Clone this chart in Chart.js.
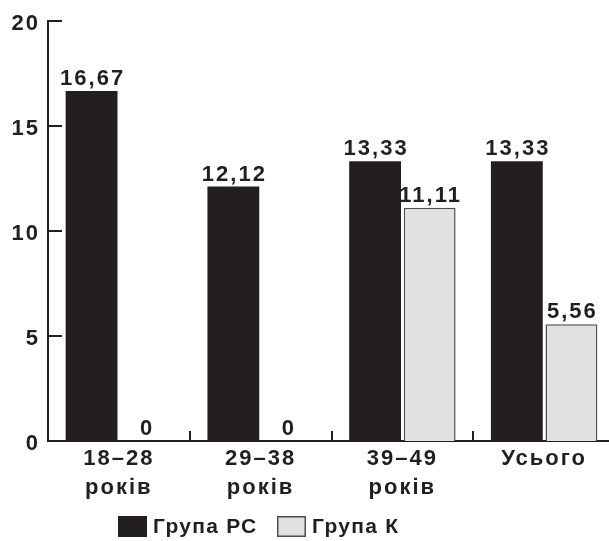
<!DOCTYPE html>
<html>
<head>
<meta charset="utf-8">
<script src="https://cdn.jsdelivr.net/npm/chart.js@4/dist/chart.umd.min.js"></script>
<style>
  html, body { margin: 0; padding: 0; background: #ffffff; }
  #wrap { width: 609px; height: 541px; position: relative; }
</style>
</head>
<body>
<div id="wrap"><canvas id="c" width="609" height="541"></canvas></div>
<script>
// Age groups on the x axis
const categories = [['18–28', 'років'], ['29–38', 'років'], ['39–49', 'років'], 'Усього'];
// Share per group, %
const groupRS = [16.67, 12.12, 13.33, 13.33];
const groupK = [0, 0, 11.11, 5.56];
// Y axis ticks
const yTicks = [0, 5, 10, 15, 20];
const seriesNames = ['Група РС', 'Група К'];

const INK = '#231f20';
const LIGHT = '#e1e2e4';
const FONT = "'Liberation Sans', Arial, Helvetica, sans-serif";

// The plot runs a little past the right edge of the canvas
const widenPlot = {
  id: 'widenPlot',
  afterLayout(chart) {
    const x = chart.scales.x;
    const right = chart.width + 6;
    x.right = right;
    x.width = right - x.left;
    x.configure();
    chart.chartArea.right = right;
    chart.chartArea.width = right - chart.chartArea.left;
  }
};

// Slightly tracked-out text for the axis labels
const tracking = {
  id: 'tracking',
  beforeDraw(chart) { chart.ctx.letterSpacing = '2px'; },
  afterDraw(chart) { chart.ctx.letterSpacing = '0px'; }
};

// Inward tick marks on both axes (y: pointing right, x: pointing up)
const innerTicks = {
  id: 'innerTicks',
  afterDatasetsDraw(chart) {
    const { ctx } = chart;
    const x = chart.scales.x, y = chart.scales.y;
    ctx.save();
    ctx.strokeStyle = INK;
    ctx.lineWidth = 2;
    ctx.beginPath();
    yTicks.forEach(v => {
      if (v === yTicks[0]) return;
      const py = Math.round(y.getPixelForValue(v));
      ctx.moveTo(x.left, py);
      ctx.lineTo(x.left + 14, py);
    });
    for (let i = 1; i < categories.length; i++) {
      const px = Math.round((x.getPixelForValue(i - 1) + x.getPixelForValue(i)) / 2);
      ctx.moveTo(px, y.bottom);
      ctx.lineTo(px, y.bottom - 10);
    }
    ctx.stroke();
    ctx.restore();
  }
};

// Value printed above every bar
const valueLabels = {
  id: 'valueLabels',
  afterDatasetsDraw(chart) {
    const { ctx } = chart;
    ctx.save();
    ctx.fillStyle = INK;
    ctx.font = 'bold 22px ' + FONT;
    ctx.letterSpacing = '2px';
    ctx.textAlign = 'center';
    ctx.textBaseline = 'alphabetic';
    chart.data.datasets.forEach((ds, di) => {
      const meta = chart.getDatasetMeta(di);
      meta.data.forEach((bar, i) => {
        const txt = String(ds.data[i]).replace('.', ',');
        ctx.fillText(txt, bar.x + 1, bar.y - 6);
      });
    });
    ctx.restore();
  }
};

// Legend row under the axis labels
const bottomLegend = {
  id: 'bottomLegend',
  afterDraw(chart) {
    const { ctx } = chart;
    const pos = [118, 277];
    ctx.save();
    ctx.font = 'bold 21px ' + FONT;
    ctx.letterSpacing = '1.3px';
    ctx.textBaseline = 'middle';
    ctx.textAlign = 'left';
    chart.data.datasets.forEach((ds, i) => {
      const bx = pos[i], by = 516;
      ctx.fillStyle = ds.backgroundColor;
      ctx.fillRect(bx, by, 29, 21);
      if (ds.borderWidth) {
        ctx.strokeStyle = ds.borderColor;
        ctx.lineWidth = 1.5;
        ctx.strokeRect(bx + 0.75, by + 0.75, 27.5, 19.5);
      }
      ctx.fillStyle = INK;
      ctx.fillText(ds.label, bx + 35, by + 11);
    });
    ctx.restore();
  }
};

new Chart(document.getElementById('c'), {
  type: 'bar',
  data: {
    labels: categories,
    datasets: [
      {
        label: seriesNames[0],
        data: groupRS,
        backgroundColor: INK,
        borderWidth: 0,
        categoryPercentage: 0.77,
        barPercentage: 0.95
      },
      {
        label: seriesNames[1],
        data: groupK,
        backgroundColor: LIGHT,
        borderColor: '#4d4d4f',
        borderWidth: 1.5,
        categoryPercentage: 0.77,
        barPercentage: 0.95
      }
    ]
  },
  options: {
    responsive: false,
    animation: false,
    devicePixelRatio: 1,
    layout: { padding: { left: 0, right: 0, top: 17, bottom: 0 } },
    plugins: {
      legend: { display: false },
      tooltip: { enabled: false }
    },
    scales: {
      x: {
        grid: { display: false, drawTicks: false },
        border: { display: true, color: INK, width: 2 },
        ticks: {
          color: INK,
          padding: 3,
          maxRotation: 0,
          autoSkip: false,
          font: { family: FONT, size: 22, weight: 'bold', lineHeight: 1.32 }
        },
        afterFit(scale) { scale.height = 100; }
      },
      y: {
        min: 0,
        max: 20,
        afterBuildTicks(scale) { scale.ticks = yTicks.map(v => ({ value: v })); },
        grid: { display: false, drawTicks: false },
        border: { display: true, color: INK, width: 2 },
        ticks: {
          color: INK,
          padding: 8,
          labelOffset: 3,
          font: { family: FONT, size: 22, weight: 'bold' }
        },
        afterFit(scale) { scale.width = 48; }
      }
    }
  },
  plugins: [widenPlot, tracking, innerTicks, valueLabels, bottomLegend]
});
</script>
</body>
</html>
